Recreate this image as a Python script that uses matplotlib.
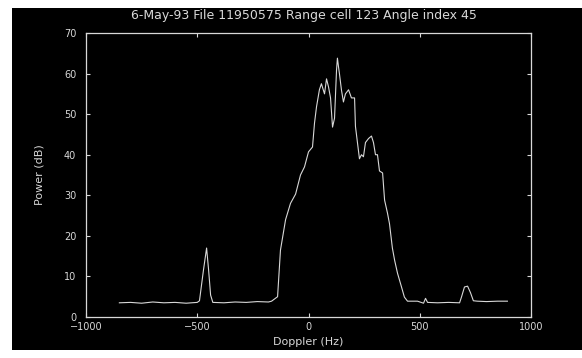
import numpy as np
import matplotlib.pyplot as plt
from matplotlib.patches import Rectangle

# spectrum
doppler = [-850, -800, -750, -700, -650, -600, -550, -500, -490,
           -472, -458, -449, -440, -430, -380, -330, -280, -230, -180, -166,
           -139, -126, -103, -81, -58, -36, -18, 0, 18, 27, 36, 49, 58, 72,
           81, 90, 99, 108, 117, 126, 130, 135, 139, 148, 157, 166, 180, 193,
           207, 211, 220, 229, 238, 247, 256, 270, 283, 292, 301, 310, 319,
           333, 342, 355, 364, 377, 387, 400, 418, 431, 445, 490, 517, 526,
           535, 580, 630, 679, 688, 701, 715, 728, 741, 759, 800, 850, 894]
power = [3.5, 3.6, 3.4, 3.7, 3.5, 3.6, 3.4, 3.6, 4.0,
         11.6, 17.0, 11.6, 5.4, 3.6, 3.5, 3.7, 3.6, 3.8, 3.7, 3.9,
         5.0, 16.5, 24.0, 28.0, 30.3, 35.0, 37.0, 40.7, 41.9, 47.8, 51.8, 56.0, 57.5, 55.0,
         58.7, 56.7, 54.0, 46.8, 49.0, 60.9, 63.8, 61.6, 60.0, 56.0, 53.0, 55.0, 56.0, 54.0,
         54.0, 47.0, 43.0, 39.0, 40.0, 39.5, 43.0, 44.0, 44.6, 43.0, 40.0, 40.0, 36.0,
         35.5, 28.8, 25.6, 23.0, 17.0, 14.0, 10.8, 7.4, 4.9, 3.9, 3.9, 3.4, 4.6,
         3.6, 3.5, 3.6, 3.5, 5.0, 7.4, 7.6, 6.0, 4.0, 3.9, 3.8, 3.9, 3.9]

xticks = [-1000, -500, 0, 500, 1000]
yticks = [0, 10, 20, 30, 40, 50, 60, 70]

fg = '#d8d8d8'

fig = plt.figure(figsize=(5.82, 3.58), dpi=100, facecolor='white')
# black scan area with white margin on left/top/bottom
fig.add_artist(Rectangle((12 / 582, 8 / 358), 1 - 12 / 582, 1 - 16 / 358,
                         transform=fig.transFigure, facecolor='black',
                         edgecolor='none', zorder=-10))

ax = fig.add_axes([86 / 582, 1 - 317 / 358, 445 / 582, 284 / 358])
ax.set_zorder(1)
ax.set_facecolor('black')
ax.plot(doppler, power, color=fg, lw=0.8)

ax.set_xlim(-1000, 1000)
ax.set_ylim(0, 70)
ax.set_xticks(xticks)
ax.set_yticks(yticks)
ax.tick_params(direction='in', colors=fg, labelsize=7, length=3,
               top=True, right=True)
ax.tick_params(axis='y', pad=7)
for s in ax.spines.values():
    s.set_color(fg)
    s.set_linewidth(0.9)

ax.set_xlabel('Doppler (Hz)', color=fg, fontsize=8, labelpad=4)
ax.set_ylabel('Power (dB)', color=fg, fontsize=8, labelpad=14)
fig.text(0.523, 1 - 15 / 358,
         '6-May-93 File 11950575 Range cell 123 Angle index 45',
         color=fg, fontsize=9, ha='center', va='center')

fig.savefig('out.png', dpi=100, facecolor=fig.get_facecolor())
